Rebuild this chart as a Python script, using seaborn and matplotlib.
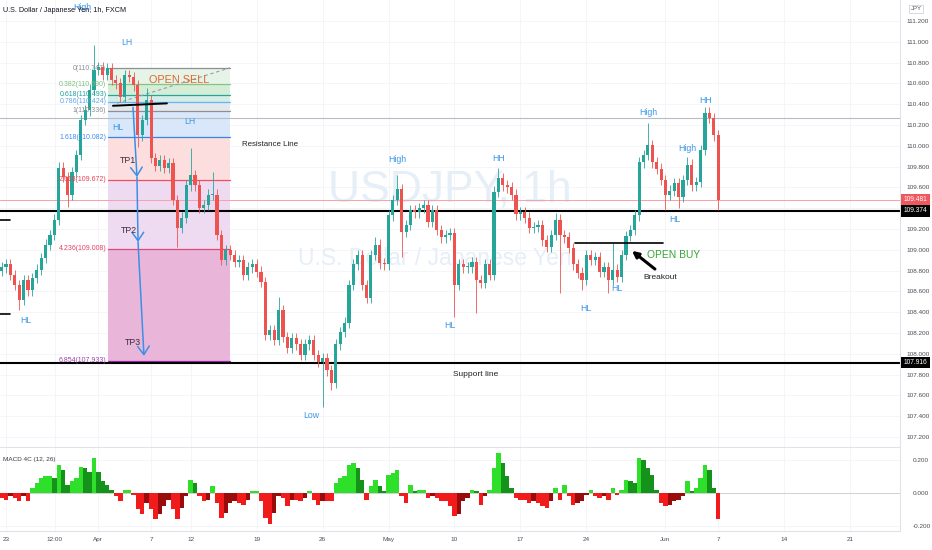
import numpy as np
import pandas as pd
import matplotlib
matplotlib.use("Agg")
import matplotlib.pyplot as plt
import matplotlib.transforms as mtrans
import seaborn as sns

# ---------------- data ----------------
# candle closes, one candle every 1/3 trading day, first candle at day -1/3 (day 0 = Mar 23)
closes = [108.83, 108.86, 108.76, 108.66, 108.52, 108.71, 108.61, 108.73, 108.81, 108.92,
          109.05, 109.14, 109.29, 109.79, 109.70, 109.53, 109.75, 109.91, 110.25, 110.34,
          110.54, 110.73, 110.76, 110.68, 110.75, 110.63, 110.60, 110.47, 110.68, 110.66,
          110.58, 110.10, 110.25, 110.44, 109.88, 109.81, 109.86, 109.79, 109.83, 109.48,
          109.21, 109.31, 109.62, 109.72, 109.62, 109.40, 109.43, 109.53, 109.53, 109.14,
          108.90, 109.00, 108.95, 108.88, 108.90, 108.76, 108.83, 108.86, 108.79, 108.69,
          108.18, 108.23, 108.13, 108.42, 108.16, 108.06, 108.15, 108.09, 107.99, 108.09,
          108.13, 107.99, 107.92, 107.96, 107.84, 107.72, 108.09, 108.21, 108.30, 108.66,
          108.86, 108.95, 108.66, 108.54, 108.95, 109.05, 108.87, 108.86, 109.33, 109.48,
          109.58, 109.17, 109.24, 109.38, 109.36, 109.40, 109.43, 109.27, 109.38, 109.19,
          109.12, 109.14, 109.16, 108.66, 108.86, 108.83, 108.83, 108.88, 108.71, 108.68,
          108.86, 108.76, 109.56, 109.69, 109.62, 109.60, 109.53, 109.34, 109.36, 109.31,
          109.21, 109.22, 109.24, 109.09, 109.03, 109.14, 109.29, 109.14, 109.12, 109.02,
          108.86, 108.78, 108.71, 108.95, 108.90, 108.93, 108.79, 108.83, 108.71, 108.81,
          108.74, 108.95, 109.13, 109.19, 109.33, 109.84, 109.91, 110.01, 109.84, 109.78,
          109.67, 109.53, 109.57, 109.64, 109.51, 109.67, 109.82, 109.62, 109.65, 109.96,
          110.32, 110.27, 110.10, 109.48]
first_open = 108.80
spike_high_idx = [21, 33, 43, 48, 63, 85, 90, 113, 126, 139, 147, 156, 160]
spike_high_val = [110.97, 110.56, 109.98, 109.75, 108.55, 109.12, 109.72, 109.79, 109.35, 109.07, 110.22, 109.89, 110.34]
spike_low_idx = [4, 15, 31, 40, 73, 75, 91, 103, 108, 127, 132, 138, 151, 154, 163]
spike_low_val = [108.42, 109.41, 109.99, 109.03, 107.49, 107.65, 108.93, 108.35, 108.39, 108.58, 108.61, 108.58, 109.38, 109.40, 109.38]

macd = [-0.03, -0.04, -0.02, -0.03, -0.05, -0.02, -0.05, 0.03, 0.06, 0.09,
        0.10, 0.10, 0.09, 0.17, 0.14, 0.05, 0.07, 0.09, 0.16, 0.15,
        0.13, 0.21, 0.13, 0.07, 0.05, 0.02, -0.02, -0.05, 0.02, 0.02,
        -0.01, -0.10, -0.13, -0.06, -0.10, -0.16, -0.13, -0.08, -0.04, -0.10,
        -0.16, -0.09, -0.02, 0.08, 0.06, -0.02, -0.05, -0.04, 0.04, -0.06,
        -0.15, -0.12, -0.06, -0.05, -0.06, -0.07, -0.04, 0.01, 0.01, -0.05,
        -0.15, -0.19, -0.12, -0.02, -0.03, -0.08, -0.04, -0.04, -0.05, -0.03,
        0.01, -0.04, -0.07, -0.05, -0.05, -0.05, 0.06, 0.09, 0.10, 0.17,
        0.18, 0.15, 0.08, -0.04, 0.04, 0.08, 0.04, 0.01, 0.11, 0.12,
        0.14, -0.02, -0.06, 0.05, 0.01, 0.02, 0.02, -0.03, -0.02, -0.03,
        -0.05, -0.05, -0.08, -0.14, -0.13, -0.05, -0.03, 0.02, 0.01, -0.07,
        -0.02, 0.02, 0.15, 0.24, 0.18, 0.10, 0.03, -0.03, -0.04, -0.04,
        -0.06, -0.05, -0.06, -0.08, -0.09, -0.05, 0.03, -0.04, 0.05, -0.02,
        -0.07, -0.06, -0.05, -0.01, 0.02, -0.02, -0.03, -0.02, -0.04, 0.03,
        -0.01, 0.02, 0.08, 0.07, 0.06, 0.21, 0.20, 0.15, 0.11, 0.02,
        -0.06, -0.08, -0.07, -0.05, -0.04, -0.02, 0.07, 0.01, 0.03, 0.09,
        0.17, 0.14, 0.03, -0.16]

candle_start = -1 / 3
candle_step = 1 / 3

x_ticks = [0, 3.7, 7, 11, 14, 19, 24, 29, 34, 39, 44, 50, 54, 59, 64]
x_labels = ["23", "12:00", "Apr", "7", "12", "19", "26", "May", "10", "17", "24", "Jun", "7", "14", "21"]

price_ticks = [107.2, 107.4, 107.6, 107.8, 108.0, 108.2, 108.4, 108.6, 108.8, 109.0,
               109.2, 109.6, 109.8, 110.0, 110.2, 110.4, 110.6, 110.8, 111.0, 111.2]
macd_ticks = [0.2, 0.0, -0.2]

fib_ratios = [0, 0.382, 0.618, 0.786, 1, 1.618, 2.618, 4.236, 6.854]
fib_prices = [110.747, 110.590, 110.493, 110.424, 110.336, 110.082, 109.672, 109.008, 107.933]
fib_start, fib_end = 7.73, 16.98

resistance_price = 109.374
support_price = 107.916
last_price = 109.481
gray_level = 110.267
breakout_level = 109.065

# annotation texts: (text, day, price)
swing_labels = [("LH", 9.17, 110.99), ("LH", 13.95, 110.23), ("HL", 8.49, 110.18),
                ("HL", 1.52, 108.325), ("Low", 23.12, 107.41), ("High", 29.64, 109.87),
                ("HL", 33.66, 108.27), ("HH", 37.38, 109.88), ("HL", 43.97, 108.44),
                ("HL", 46.32, 108.63), ("High", 48.67, 110.325), ("High", 51.63, 109.97),
                ("HL", 50.72, 109.29), ("HH", 53.07, 110.44), ("High", 5.76, 111.33)]
tp_labels = [("TP1", 9.25, 109.86), ("TP2", 9.33, 109.19), ("TP3", 9.63, 108.11)]
tp_path_d = [9.63, 9.93, 10.01, 10.46]
tp_path_p = [110.37, 109.70, 109.075, 107.98]

# ---------------- style ----------------
sns.set_theme(style="white")
plt.rcParams['font.family'] = ['Liberation Sans', 'DejaVu Sans']

UP, DOWN = '#26a69a', '#ef5350'
BLUE_TXT = '#3d98e8'

fig = plt.figure(figsize=(9.32, 5.5), dpi=100)
fig.patch.set_facecolor('white')
W, H = 932.0, 550.0
ax = fig.add_axes([0, 1 - 447 / H, 900 / W, 447 / H])
ax2 = fig.add_axes([0, 1 - 531 / H, 900 / W, (531 - 448) / H])

XLIM = (-0.455, 67.78)
ax.set_xlim(*XLIM)
ax.set_ylim(107.104, 111.402)
ax2.set_xlim(*XLIM)
ax2.set_ylim(-0.2303, 0.2727)

# grid
for a in (ax, ax2):
    for t in x_ticks:
        a.axvline(t, color='#f4f5f8', lw=0.7, zorder=0)
for p in price_ticks + [109.4]:
    ax.axhline(p, color='#f4f5f8', lw=0.7, zorder=0)
for m in macd_ticks:
    ax2.axhline(m, color='#f4f5f8', lw=0.7, zorder=0)

# watermark
ax.text(33.66, 109.575, "USDJPY, 1h", fontsize=32, color='#e6eef8', ha='center', va='center', zorder=0.5)
ax.text(32.53, 108.92, "U.S. Dollar / Japanese Yen", fontsize=16.5, color='#e6eef8', ha='center', va='center', zorder=0.5)

# fib bands
band_colors = ['#e6f3e7', '#d5ecd7', '#d3ede8', '#e4e7ec', '#d8e8fa', '#fcdede', '#efdbf1', '#e9b6da']
for i in range(len(fib_prices) - 1):
    ax.fill_between([fib_start, fib_end], fib_prices[i + 1], fib_prices[i], color=band_colors[i], lw=0, zorder=1)
line_colors = ['#8d8f97', '#81c784', '#26a69a', '#64b5f6', '#8d8f97', '#3b82f0', '#f0505e', '#e0457b', '#9c27b0']
label_colors = ['#8d8f97', '#7cbf7c', '#1fa096', '#5aa9ef', '#8d8f97', '#3d8ef0', '#e8404f', '#e8406a', '#a040b0']
for r, p, lc, tc in zip(fib_ratios, fib_prices, line_colors, label_colors):
    ax.plot([fib_start, fib_end], [p, p], color=lc, lw=0.9, zorder=1.5)
    ax.text(fib_start - 0.12, p, f"{r:g}({p:.3f})", fontsize=5.0, color=tc, ha='right', va='center', zorder=5)
ax.plot([8.42, 16.98], [110.41, 110.75], color='#9a9ca4', lw=0.8, ls=(0, (3, 2.5)), zorder=1.6)

# horizontal levels
ax.axhline(gray_level, color='#b8bbc3', lw=0.8, zorder=1.2)
ax.axhline(last_price, color='#f5a3a8', lw=0.7, zorder=1.2)
ax.axhline(resistance_price, color='black', lw=1.5, zorder=2.5)
ax.axhline(support_price, color='black', lw=1.5, zorder=2.5)
ax.plot([-0.455, 0.3], [109.29, 109.29], color='black', lw=1.2, zorder=2.5)
ax.plot([-0.455, 0.3], [108.38, 108.38], color='black', lw=1.2, zorder=2.5)

# candles
n = len(closes)
xs = candle_start + candle_step * np.arange(n)
c = np.array(closes)
o = np.array([first_open] + closes[:-1])
hi = np.maximum(o, c) + 0.05
lo = np.minimum(o, c) - 0.05
for idx, v in zip(spike_high_idx, spike_high_val):
    hi[idx] = max(hi[idx], v)
for idx, v in zip(spike_low_idx, spike_low_val):
    lo[idx] = min(lo[idx], v)
cols = [UP if cc >= oo else DOWN for oo, cc in zip(o, c)]
ax.vlines(xs, lo, hi, colors=cols, lw=0.6, zorder=3)
body = np.maximum(np.abs(c - o), 0.01)
ax.bar(xs, body, bottom=np.minimum(o, c), width=0.24, color=cols, lw=0, zorder=3.2)

# neckline and breakout lines
ax.plot([8.11, 12.2], [110.385, 110.408], color='black', lw=1.4, zorder=4)
ax.plot([43.14, 49.81], [breakout_level, breakout_level], color='black', lw=1.2, zorder=4)

# TP arrows
for k in range(len(tp_path_d) - 1):
    ax.annotate('', xy=(tp_path_d[k + 1], tp_path_p[k + 1]), xytext=(tp_path_d[k], tp_path_p[k]),
                arrowprops=dict(arrowstyle='->,head_length=0.5,head_width=0.35', color='#3c8fe6', lw=1.1,
                                mutation_scale=12, shrinkA=0, shrinkB=0), zorder=4.5)
for t, d, p in tp_labels:
    ax.text(d, p, t, fontsize=6.3, color='#3b2c3b', ha='center', va='center', zorder=5)

for t, d, p in swing_labels:
    ax.text(d, p, t, fontsize=6.3, color=BLUE_TXT, ha='center', va='center', zorder=5)

ax.text(13.12, 110.63, "OPEN SELL", fontsize=7.8, color='#e0652e', ha='center', va='center', zorder=5)
ax.text(20.0, 110.01, "Resistance Line", fontsize=5.7, color='#222222', ha='center', va='center', zorder=5)
ax.text(35.63, 107.80, "Support line", fontsize=6.0, color='#222222', ha='center', va='center', zorder=5)
ax.text(50.64, 108.95, "OPEN BUY", fontsize=7.4, color='#34a534', ha='center', va='center', zorder=5)
ax.text(49.58, 108.73, "Breakout", fontsize=6.0, color='#222222', ha='center', va='center', zorder=5)
ax.annotate('', xy=(47.46, 108.99), xytext=(49.2, 108.815),
            arrowprops=dict(arrowstyle='-|>', color='black', lw=2.2, mutation_scale=9,
                            shrinkA=0, shrinkB=0), zorder=5)

# MACD histogram (4 colour)
cls = []
prev = 0.0
for m in macd:
    if m >= 0:
        cls.append('pos_up' if m >= prev else 'pos_dn')
    else:
        cls.append('neg_dn' if m <= prev else 'neg_up')
    prev = m
mdf = pd.DataFrame({'x': np.round(xs, 4), 'macd': macd, 'cls': cls})
pal = {'pos_up': '#2fe02a', 'pos_dn': '#14921a', 'neg_dn': '#f21b1b', 'neg_up': '#9a0c0c'}
sns.barplot(data=mdf, x='x', y='macd', hue='cls', palette=pal, native_scale=True, width=1.0,
            dodge=False, errorbar=None, legend=False, ax=ax2, linewidth=0, saturation=1)
ax2.axhline(0, color='#c8cad0', lw=0.6, zorder=0.5)
ax2.set_xlim(*XLIM)
ax2.set_ylim(-0.2303, 0.2727)
ax2.set_xlabel('')
ax2.set_ylabel('')

# axes / ticks
for a in (ax, ax2):
    for s in ('left', 'top'):
        a.spines[s].set_visible(False)
    a.spines['right'].set_color('#dfe2e8')
    a.spines['bottom'].set_color('#dfe2e8')
    a.spines['right'].set_linewidth(0.8)
    a.spines['bottom'].set_linewidth(0.8)
    a.yaxis.tick_right()
    a.tick_params(axis='both', length=0, labelsize=4.6, labelcolor='#4a4d55')

ax.set_xticks([])
ax.set_yticks(price_ticks)
ax.set_yticklabels([f"{p:.3f}" for p in price_ticks])
ax.tick_params(axis='y', pad=5)
ax2.set_yticks(macd_ticks)
ax2.set_yticklabels([f"{m:.3f}" for m in macd_ticks])
ax2.tick_params(axis='y', pad=9)
ax2.set_xticks(x_ticks)
ax2.set_xticklabels(x_labels)
ax2.tick_params(axis='x', pad=4)

# price boxes on the right scale
tr = mtrans.blended_transform_factory(ax.transAxes, ax.transData)
for val, fc in [(last_price, '#f0585f'), (resistance_price, 'black'), (support_price, 'black')]:
    ax.text(1.004, val, f"{val:.3f}", transform=tr, fontsize=4.8, color='white', ha='left', va='center',
            clip_on=False, zorder=6,
            bbox=dict(boxstyle='square,pad=0.35', fc=fc, ec='none'))

fig.text(916 / W, 1 - 9 / H, "JPY", fontsize=4.3, color='#555', ha='center', va='center',
         bbox=dict(boxstyle='square,pad=0.3', fc='white', ec='#c8cbd2', lw=0.5))
fig.text(3 / W, 1 - 10 / H, "U.S. Dollar / Japanese Yen, 1h, FXCM", fontsize=5.2, color='#131722',
         ha='left', va='center', zorder=10)
fig.text(3 / W, 1 - 459 / H, "MACD 4C (12, 26)", fontsize=4.6, color='#3a3d45', ha='left', va='center')

fig.savefig('out.png', dpi=100)
